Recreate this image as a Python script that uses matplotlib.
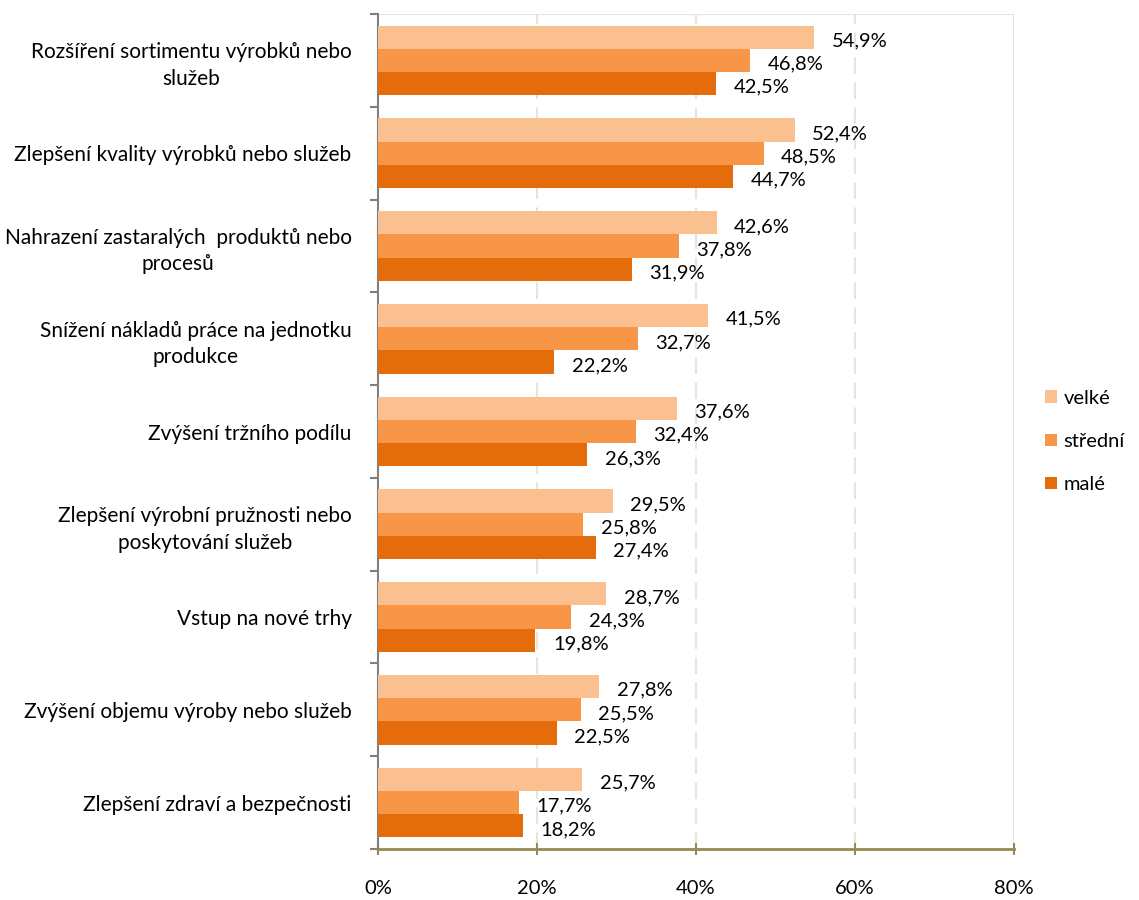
import matplotlib
matplotlib.use("Agg")
import matplotlib.pyplot as plt
import numpy as np

plt.rcParams["font.family"] = ["Lato", "DejaVu Sans"]

# Data
categories = [
    "Rozšíření sortimentu výrobků nebo\nslužeb",
    "Zlepšení kvality výrobků nebo služeb",
    "Nahrazení zastaralých  produktů nebo\nprocesů",
    "Snížení nákladů práce na jednotku\nprodukce",
    "Zvýšení tržního podílu",
    "Zlepšení výrobní pružnosti nebo\nposkytování služeb",
    "Vstup na nové trhy",
    "Zvýšení objemu výroby nebo služeb",
    "Zlepšení zdraví a bezpečnosti",
]
velke = [54.9, 52.4, 42.6, 41.5, 37.6, 29.5, 28.7, 27.8, 25.7]
stredni = [46.8, 48.5, 37.8, 32.7, 32.4, 25.8, 24.3, 25.5, 17.7]
male = [42.5, 44.7, 31.9, 22.2, 26.3, 27.4, 19.8, 22.5, 18.2]
series_names = ["velké", "střední", "malé"]
series_colors = ["#FAC090", "#F79646", "#E46C0A"]
x_ticks = [0, 20, 40, 60, 80]

fig = plt.figure(figsize=(11.39, 9), dpi=100)
ax = fig.add_axes([378 / 1139, 1 - 849 / 900, 636 / 1139, 835 / 900])

y = np.arange(len(categories))
h = 0.25
for i, (vals, name, col) in enumerate(zip([velke, stredni, male], series_names, series_colors)):
    pos = y - h + i * h
    ax.barh(pos, vals, height=h, color=col, label=name, zorder=3)
    for p, v in zip(pos, vals):
        ax.text(v + 2.2, p + 0.04, f"{v:.1f}%".replace(".", ","), va="center", ha="left",
                fontsize=14.5, color="black")

ax.set_xlim(0, 80)
ax.set_ylim(len(categories) - 0.5, -0.5)

# gridlines
for t in x_ticks[1:]:
    ax.axvline(t, color="#E8E5D8", linestyle=(0, (8, 4)) if t < 80 else "-", linewidth=1.5, zorder=1)
ax.axhline(-0.5, color="#E8E5D8", linewidth=1.5, zorder=1)

for s in ["top", "right"]:
    ax.spines[s].set_visible(False)
ax.spines["left"].set_color("#808080")
ax.spines["left"].set_linewidth(1.5)
ax.spines["bottom"].set_color("#948A54")
ax.spines["bottom"].set_linewidth(2)

ax.set_xticks(x_ticks)
ax.set_xticklabels([f"{t}%" for t in x_ticks], fontsize=14.5)
ax.tick_params(axis="x", direction="inout", length=8, width=1.5, color="#948A54", pad=18)

ax.set_yticks(y)
ylabels = ax.set_yticklabels(categories, fontsize=15)
for lab in ylabels:
    lab.set_multialignment("center")
    lab.set_linespacing(1.4)
ax.tick_params(axis="y", which="major", length=0, pad=19)
ax.set_yticks(np.arange(len(categories) + 1) - 0.5, minor=True)
ax.tick_params(axis="y", which="minor", length=6, width=1.5, color="#808080", direction="out")

leg = ax.legend(loc="center left", bbox_to_anchor=(1.026, 0.488), frameon=False, fontsize=14.5,
                handlelength=0.6, handleheight=0.6, labelspacing=1.3, handletextpad=0.35,
                borderaxespad=0.3)

fig.savefig("out.png", dpi=100)
